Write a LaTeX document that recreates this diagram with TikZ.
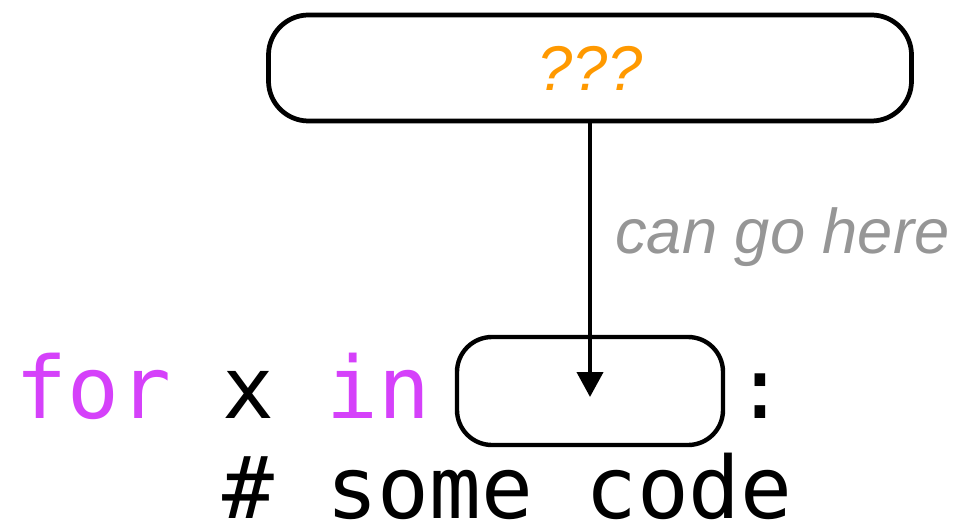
\documentclass[tikz,border=0pt]{standalone}
\usepackage{fontspec}
\setmainfont{Liberation Sans}
\setmonofont{DejaVu Sans Mono}
\usetikzlibrary{arrows.meta}
\definecolor{kwpink}{RGB}{213,65,250}
\definecolor{qorange}{RGB}{255,153,0}
\definecolor{notegray}{RGB}{150,150,150}

\begin{document}
\begin{tikzpicture}[
  slotbox/.style={draw, line width=2.7pt, rounded corners=0.8cm},
  code/.style={inner sep=0pt, anchor=base west, font=\fontsize{49}{58}\selectfont\ttfamily},
  hint/.style={font=\fontsize{36}{43}\selectfont\itshape}]
\useasboundingbox (0,0) rectangle (19.26,10.5);

\node[slotbox, minimum width=12.86cm, minimum height=2.12cm, hint, text=qorange] (guess) at (11.8,9.14) {???};
\node[slotbox, line width=2.5pt, rounded corners=0.7cm, minimum width=5.32cm, minimum height=2.16cm] (slot) at (11.8,2.68) {};
\coordinate (tip) at (11.8,2.56);
\draw[line width=2.3pt, -{Triangle[length=0.5cm,width=0.52cm]}] (guess.south) -- (tip);
\node[hint, text=notegray, inner sep=0pt, anchor=base west] (where) at (12.3,5.44) {can go here};

\node[code] (loophead) at (0.3,2.14) {\textcolor{kwpink}{for} x \textcolor{kwpink}{in}};
\node[code] (colon) at (14.68,2.14) {:};
\node[code] (body) at (4.44,0.14) {\# some code};
\end{tikzpicture}
\end{document}
